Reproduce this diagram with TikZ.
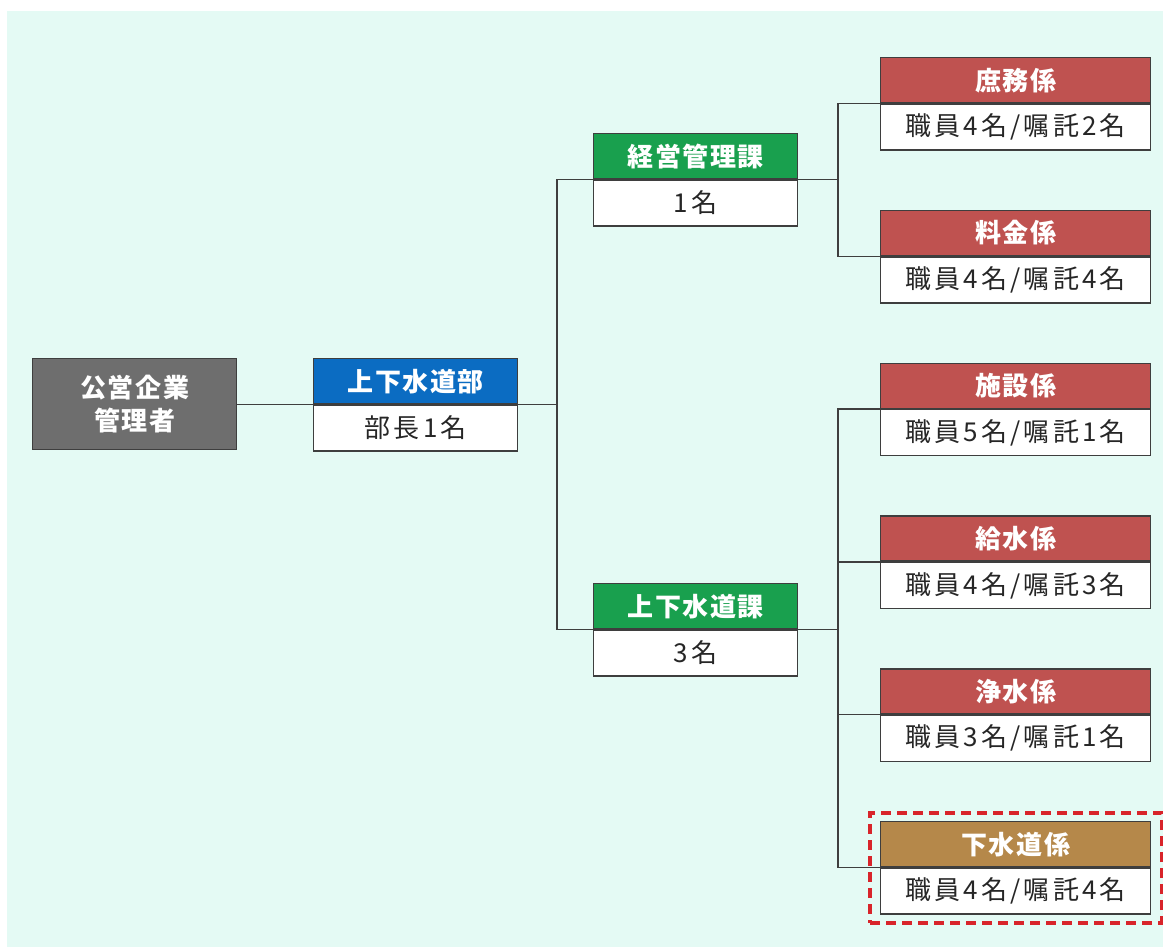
\documentclass[tikz,border=0pt]{standalone}
\usepackage{fontspec}
\setmainfont{Noto Sans CJK JP}
\newfontfamily\hdrfont[LetterSpace=6]{Noto Sans CJK JP}
\newfontfamily\bdyfont[LetterSpace=12]{Noto Sans CJK JP}
\usetikzlibrary{positioning,fit}

\definecolor{bgmint}{HTML}{E4FAF4}
\definecolor{edge}{HTML}{3E3E3E}
\definecolor{topgray}{HTML}{6E6E6E}
\definecolor{bublue}{HTML}{0B6CC2}
\definecolor{kagreen}{HTML}{19A04E}
\definecolor{kakared}{HTML}{BF5250}
\definecolor{gesuibrown}{HTML}{B5884A}
\definecolor{focusred}{HTML}{D8242A}

\tikzset{
	hdr/.style={draw=edge, line width=1.4pt, fill=#1, text=white, font=\hdrfont\bfseries\fontsize{26}{33}\selectfont,
		minimum height=45pt, inner sep=0pt, anchor=north west},
	bdy/.style={draw=edge, line width=1.4pt, fill=white, text=black!85, font=\bdyfont\fontsize{26}{30}\selectfont,
		minimum height=46pt, inner sep=0pt, below=0pt of #1},
	wide/.style={minimum width=204pt},
	long/.style={minimum width=270pt},
	link/.style={draw=edge, line width=1.4pt},
	focus/.style={draw=focusred, line width=3.8pt, dash pattern=on 10pt off 6pt, inner xsep=10pt, inner ysep=8pt}
}

\begin{document}
\begin{tikzpicture}[x=1pt, y=-1pt]
		\useasboundingbox (0,0) rectangle (1163,947);
		\fill[bgmint] (7,11) rectangle (1163,947);
		
		\node[hdr=topgray, wide, minimum height=91pt, align=center] (kanri) at (32,358) {公営企業\\管理者};
		\node[hdr=bublue, wide] (buH) at (313,358) {上下水道部};
		\node[bdy=buH, wide] (bu) {部長1名};
		
		\node[hdr=kagreen, wide] (keieiH) at (593,133) {経営管理課};
		\node[bdy=keieiH, wide] (keiei) {1名};
		\node[hdr=kagreen, wide] (suidoH) at (593,583) {上下水道課};
		\node[bdy=suidoH, wide] (suido) {3名};
		
		\node[hdr=kakared, long] (shomuH) at (880,57) {庶務係};
		\node[bdy=shomuH, long] (shomu) {職員4名/嘱託2名};
		\node[hdr=kakared, long, below=59pt of shomu] (ryokinH) {料金係};
		\node[bdy=ryokinH, long] (ryokin) {職員4名/嘱託4名};
		\node[hdr=kakared, long, below=59pt of ryokin] (shisetsuH) {施設係};
		\node[bdy=shisetsuH, long] (shisetsu) {職員5名/嘱託1名};
		\node[hdr=kakared, long, below=59pt of shisetsu] (kyusuiH) {給水係};
		\node[bdy=kyusuiH, long] (kyusui) {職員4名/嘱託3名};
		\node[hdr=kakared, long, below=59pt of kyusui] (josuiH) {浄水係};
		\node[bdy=josuiH, long] (josui) {職員3名/嘱託1名};
		\node[hdr=gesuibrown, long, below=59pt of josui] (gesuiH) {下水道係};
		\node[bdy=gesuiH, long] (gesui) {職員4名/嘱託4名};
		
		\node[focus, fit=(gesuiH)(gesui)] (gesuiBox) {};
		
		\coordinate (j1) at (557,0);
		\coordinate (j2) at (838,0);
		
		\draw[link] (kanri.east) -- (kanri.east -| buH.west);
		\draw[link] (buH.south east) -- (buH.south east -| j1);
		\draw[link] (keieiH.south west) -| (j1 |- suidoH.south west) -- (suidoH.south west);
		
		\draw[link] (keieiH.south east) -- (keieiH.south east -| j2);
		\draw[link] (shomuH.south west) -| (j2 |- ryokinH.south west) -- (ryokinH.south west);
		
		\draw[link] (suidoH.south east) -- (suidoH.south east -| j2);
		\draw[link] (shisetsuH.south west) -| (j2 |- gesuiH.south west) -- (gesuiH.south west);
		\draw[link] (kyusuiH.south west) -- (kyusuiH.south west -| j2);
		\draw[link] (josuiH.south west) -- (josuiH.south west -| j2);
\end{tikzpicture}
\end{document}
